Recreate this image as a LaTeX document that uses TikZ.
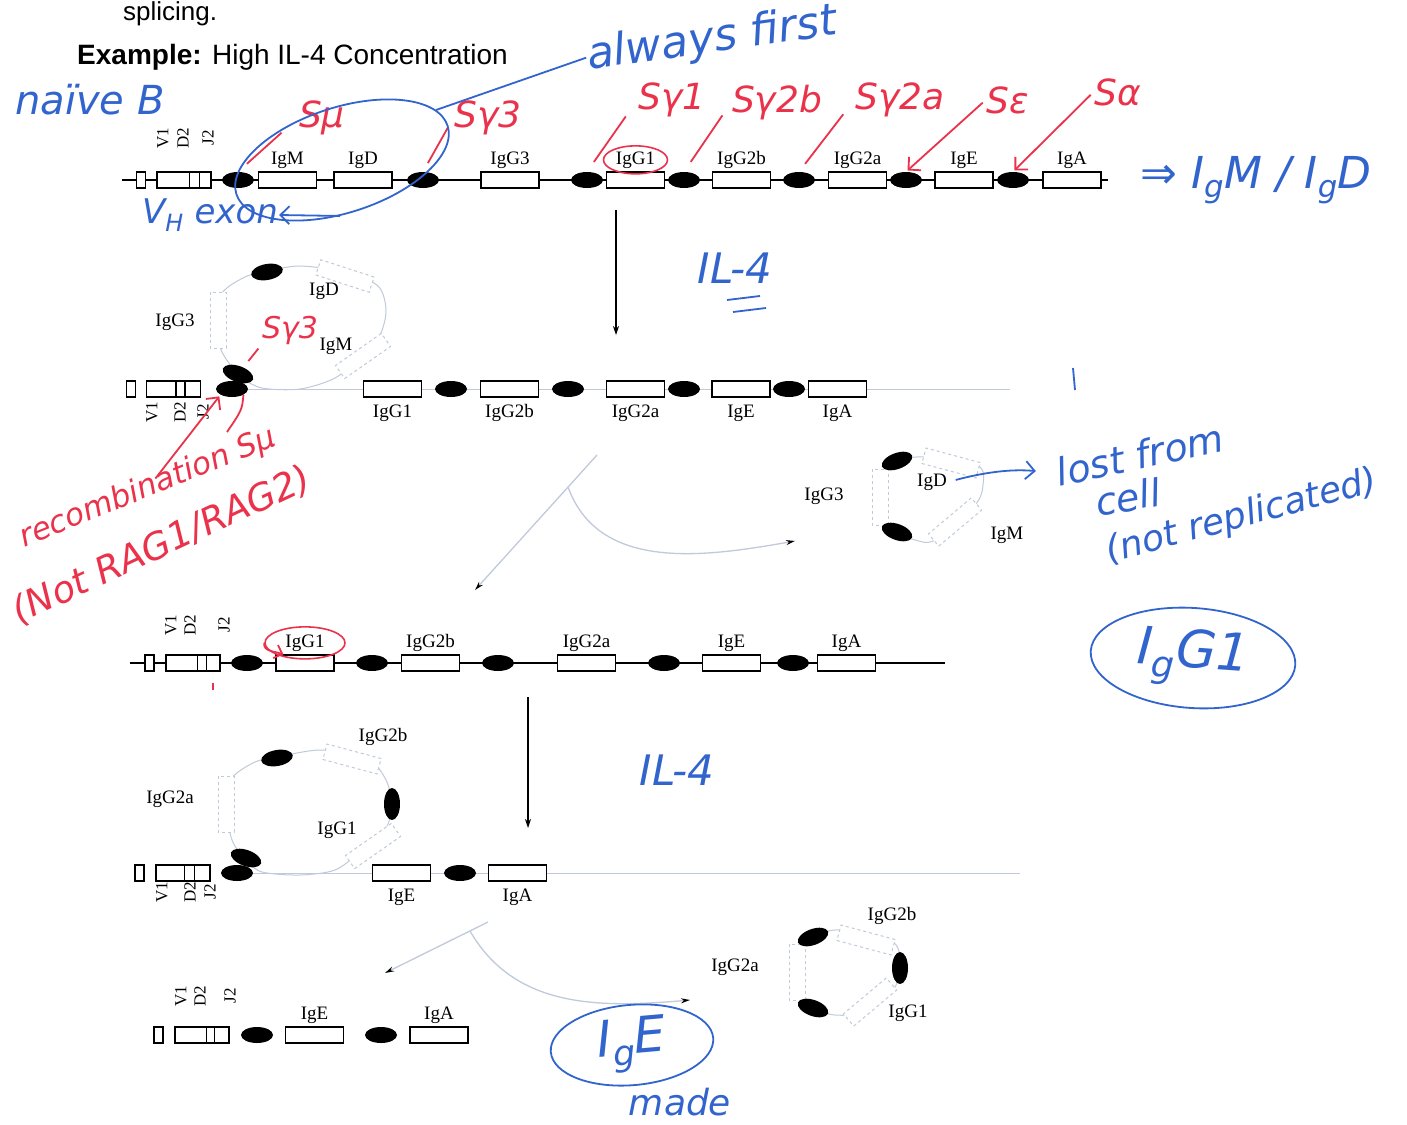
\documentclass[tikz,border=0pt]{standalone}
\usepackage{fontspec}
\setmainfont{Liberation Serif}
\newfontfamily\printfont{Liberation Sans}
\newfontfamily\handfont{DejaVu Sans}
\usetikzlibrary{positioning, arrows.meta, shapes.geometric}

\definecolor{inkblue}{RGB}{50,100,205}
\definecolor{inkred}{RGB}{235,50,75}
\definecolor{faint}{RGB}{192,202,218}

\tikzset{
    gene/.style={draw, line width=1.2pt, fill=white, minimum width=58pt,
        minimum height=16pt, inner sep=0pt},
    seg/.style={gene, minimum width=9pt},
    vdj/.style={gene, minimum width=54pt},
    switch/.style={ellipse, fill=black, minimum width=32pt, minimum height=16pt, inner sep=0pt},
    ghost/.style={draw=faint, dashed, line width=1pt, fill=white, minimum width=56pt,
        minimum height=16pt, inner sep=0pt},
    glabel/.style={font=\fontsize{19}{19}\selectfont, inner sep=1pt},
    vlabel/.style={font=\fontsize{17}{17}\selectfont, rotate=90, inner sep=0pt},
    dna/.style={line width=1.3pt},
    faintdna/.style={draw=faint, line width=1pt},
    loopline/.style={draw=faint, line width=1pt},
    bluehand/.style={text=inkblue, font=\handfont\itshape\fontsize{36}{38}\selectfont, inner sep=1pt},
    redhand/.style={text=inkred, font=\handfont\itshape\fontsize{36}{38}\selectfont, inner sep=1pt},
    blueink/.style={draw=inkblue, line width=1.8pt},
    redink/.style={draw=inkred, line width=1.8pt},
    stepline/.style={line width=1.3pt, -{Stealth[length=9pt,width=6pt]}},
    fork/.style={draw=faint, line width=1.3pt, -{Stealth[black,length=9pt,width=5pt]}}
}

\begin{document}
\begin{tikzpicture}[x=1pt, y=-1pt]
\useasboundingbox[fill=white] (0,0) rectangle (1407,1124);

% printed heading
\node[font=\printfont\fontsize{26}{26}\selectfont, anchor=base west, inner sep=0pt] (splice) at (123,21) {splicing.};
\node[font=\printfont\fontsize{28}{28}\selectfont, anchor=west, inner sep=0pt] (title) at (77,57)
    {\textbf{Example:} High IL-4 Concentration};

% ---- naive locus ----
\coordinate (row1w) at (122,180);
\coordinate (row1e) at (1108,180);
\draw[dna] (row1w) -- (row1e);
\node[seg] (v0a) at (141,180) {};
\node[vdj] (vdja) at (184,180) {};
\draw[line width=1.2pt] ([xshift=33pt]vdja.north west) -- ([xshift=33pt]vdja.south west);
\draw[line width=1.2pt] ([xshift=43pt]vdja.north west) -- ([xshift=43pt]vdja.south west);
\node[switch] (smua) at (238,180) {};
\node[gene] (igma) at (287.5,180) {};
\node[gene] (igda) at (363,180) {};
\node[switch] (sg3a) at (423,180) {};
\node[gene] (igg3a) at (510,180) {};
\node[switch] (sg1a) at (587,180) {};
\node[gene] (igg1a) at (635.5,180) {};
\node[switch] (sg2ba) at (684,180) {};
\node[gene] (igg2ba) at (741.5,180) {};
\node[switch] (sg2aa) at (799,180) {};
\node[gene] (igg2aa) at (857.5,180) {};
\node[switch] (sea) at (906,180) {};
\node[gene] (igea) at (964,180) {};
\node[switch] (saa) at (1013,180) {};
\node[gene] (igaa) at (1072,180) {};

\node[glabel, above=2pt of igma] (igmalab) {IgM};
\node[glabel, above=2pt of igda] (igdalab) {IgD};
\node[glabel, above=2pt of igg3a] (igg3alab) {IgG3};
\node[glabel, above=2pt of igg1a] (igg1alab) {IgG1};
\node[glabel, above=2pt of igg2ba] (igg2balab) {IgG2b};
\node[glabel, above=2pt of igg2aa] (igg2aalab) {IgG2a};
\node[glabel, above=2pt of igea] (igealab) {IgE};
\node[glabel, above=2pt of igaa] (igaalab) {IgA};
\node[vlabel] (v1a) at (163,138) {V1};
\node[vlabel] (d2a) at (183,138) {D2};
\node[vlabel] (j2a) at (208,138) {J2};

% ---- first switch (IgM/IgD/IgG3 looped out) ----
\coordinate (row2e) at (1010,389);
\draw[loopline] plot[smooth cycle] coordinates {(240,376) (222,352) (214,322) (222,293) (245,277) (268,271)
    (300,266) (345,272) (378,286) (386,310) (380,335) (362,356) (335,378) (300,389) (262,388)};
\node[ghost, rotate=90] (loopg3) at (218,320) {};
\node[ghost, rotate=-18] (loopd) at (345,276) {};
\node[ghost, rotate=35] (loopm) at (363,356) {};
\node[switch, rotate=10] (looptop) at (267,272) {};
\node[switch, rotate=-20] (loopsw) at (238,374) {};
\node[glabel] (loopg3lab) at (175,322) {IgG3};
\node[glabel] (loopdlab) at (324,291) {IgD};
\node[glabel] (loopmlab) at (336,346) {IgM};

\node[seg] (v0b) at (131,389) {};
\node[vdj] (vdjb) at (173.5,389) {};
\draw[line width=1.2pt] ([xshift=30pt]vdjb.north west) -- ([xshift=30pt]vdjb.south west);
\draw[line width=1.2pt] ([xshift=39pt]vdjb.north west) -- ([xshift=39pt]vdjb.south west);
\node[switch] (smub) at (232,389) {};
\draw[faintdna] (smub.east) -- (row2e);
\node[gene] (igg1b) at (392.5,389) {};
\node[switch] (sg2bb) at (451,389) {};
\node[gene] (igg2bb) at (509.5,389) {};
\node[switch] (sg2ab) at (568,389) {};
\node[gene] (igg2ab) at (635.5,389) {};
\node[switch] (seb) at (684,389) {};
\node[gene] (igeb) at (741,389) {};
\node[switch] (sab) at (789,389) {};
\node[gene] (igab) at (837.5,389) {};
\node[glabel, below=6pt of igg1b] (igg1blab) {IgG1};
\node[glabel, below=6pt of igg2bb] (igg2bblab) {IgG2b};
\node[glabel, below=6pt of igg2ab] (igg2ablab) {IgG2a};
\node[glabel, below=6pt of igeb] (igeblab) {IgE};
\node[glabel, below=6pt of igab] (igablab) {IgA};
\node[vlabel] (v1b) at (152,412) {V1};
\node[vlabel] (d2b) at (180,412) {D2};
\node[vlabel] (j2b) at (203,412) {J2};

\coordinate (step1a) at (616,210);
\coordinate (step1b) at (616,335);
\draw[stepline] (step1a) -- (step1b);

% excision 1
\coordinate (fork1top) at (597,455);
\coordinate (fork1mid) at (568,487);
\coordinate (fork1end) at (475,590);
\coordinate (fork1out) at (795,541);
\draw[fork] (fork1top) -- (fork1end);
\draw[fork] (fork1mid) to[out=-70, in=190] (fork1out);

\draw[loopline] plot[smooth cycle] coordinates {(897,461) (925,457) (978,466) (983,485) (975,505)
    (935,540) (915,540) (897,532) (882,520) (878,497) (882,474)};
\node[ghost, rotate=90] (exg3) at (880,497) {};
\node[ghost, rotate=-15] (exd) at (951,463) {};
\node[ghost, rotate=40] (exm) at (955,522) {};
\node[switch, rotate=20] (extop) at (897,461) {};
\node[switch, rotate=-20] (exbot) at (897,532) {};
\node[glabel] (exg3lab) at (824,496) {IgG3};
\node[glabel] (exdlab) at (932,482) {IgD};
\node[glabel] (exmlab) at (1007,535) {IgM};

% ---- IgG1 locus ----
\coordinate (row3w) at (130,663);
\coordinate (row3e) at (945,663);
\draw[dna] (row3w) -- (row3e);
\node[seg] (v0c) at (149.5,663) {};
\node[vdj] (vdjc) at (193,663) {};
\draw[line width=1.2pt] ([xshift=32pt]vdjc.north west) -- ([xshift=32pt]vdjc.south west);
\draw[line width=1.2pt] ([xshift=41pt]vdjc.north west) -- ([xshift=41pt]vdjc.south west);
\node[switch] (smuc) at (247,663) {};
\node[gene] (igg1c) at (305,663) {};
\node[switch] (sg2bc) at (372,663) {};
\node[gene] (igg2bc) at (430.5,663) {};
\node[switch] (sg2ac) at (498,663) {};
\node[gene] (igg2ac) at (586.5,663) {};
\node[switch] (sec) at (664,663) {};
\node[gene] (igec) at (731.5,663) {};
\node[switch] (sac) at (793,663) {};
\node[gene] (igac) at (846.5,663) {};
\node[glabel, above=2pt of igg1c] (igg1clab) {IgG1};
\node[glabel, above=2pt of igg2bc] (igg2bclab) {IgG2b};
\node[glabel, above=2pt of igg2ac] (igg2aclab) {IgG2a};
\node[glabel, above=2pt of igec] (igeclab) {IgE};
\node[glabel, above=2pt of igac] (igaclab) {IgA};
\node[vlabel] (v1c) at (171,625) {V1};
\node[vlabel] (d2c) at (190,625) {D2};
\node[vlabel] (j2c) at (224,625) {J2};

\coordinate (step2a) at (528,697);
\coordinate (step2b) at (528,828);
\draw[stepline] (step2a) -- (step2b);

% ---- second switch (IgG1/IgG2b/IgG2a looped out) ----
\coordinate (row4e) at (1020,873);
\draw[loopline] plot[smooth cycle] coordinates {(246,860) (232,840) (226,805) (232,778) (255,762) (277,757)
    (320,750) (365,756) (385,778) (392,804) (385,830) (360,852) (335,870) (300,875) (262,872)};
\node[ghost, rotate=90] (loopg2a) at (226,804) {};
\node[ghost, rotate=-15] (loopg2b) at (352,759) {};
\node[ghost, rotate=35] (loopg1) at (373,846) {};
\node[switch, rotate=10] (loop2top) at (277,758) {};
\node[switch, rotate=90] (loop2right) at (392,804) {};
\node[switch, rotate=-20] (loop2sw) at (246,858) {};
\node[glabel] (loopg2blab) at (383,737) {IgG2b};
\node[glabel] (loopg2alab) at (170,799) {IgG2a};
\node[glabel] (loopg1lab) at (337,830) {IgG1};

\node[seg] (v0d) at (139.5,873) {};
\node[vdj] (vdjd) at (183,873) {};
\draw[line width=1.2pt] ([xshift=29pt]vdjd.north west) -- ([xshift=29pt]vdjd.south west);
\draw[line width=1.2pt] ([xshift=39pt]vdjd.north west) -- ([xshift=39pt]vdjd.south west);
\node[switch] (smud) at (237,873) {};
\draw[faintdna] (smud.east) -- (row4e);
\node[gene] (iged) at (401.5,873) {};
\node[switch] (sad) at (460,873) {};
\node[gene] (igad) at (517.5,873) {};
\node[glabel, below=6pt of iged] (igedlab) {IgE};
\node[glabel, below=6pt of igad] (igadlab) {IgA};
\node[vlabel] (v1d) at (162,892) {V1};
\node[vlabel] (d2d) at (190,892) {D2};
\node[vlabel] (j2d) at (210,892) {J2};

% excision 2
\coordinate (fork2top) at (488,922);
\coordinate (fork2mid) at (470,931);
\coordinate (fork2end) at (385,973);
\coordinate (fork2out) at (690,1000);
\draw[fork] (fork2top) -- (fork2end);
\draw[fork] (fork2mid) to[out=-60, in=185] (fork2out);

\draw[loopline] plot[smooth cycle] coordinates {(813,937) (840,930) (893,942) (900,968) (893,990)
    (865,1012) (835,1015) (813,1008) (798,990) (795,955)};
\node[ghost, rotate=-15] (exg2b) at (866,940) {};
\node[ghost, rotate=90] (exg2a) at (797,972) {};
\node[ghost, rotate=40] (exg1) at (870,1002) {};
\node[switch, rotate=20] (ex2top) at (813,937) {};
\node[switch, rotate=90] (ex2right) at (900,968) {};
\node[switch, rotate=-20] (ex2bot) at (813,1008) {};
\node[glabel] (exg2blab) at (892,916) {IgG2b};
\node[glabel] (exg2alab) at (735,967) {IgG2a};
\node[glabel] (exg1lab) at (908,1013) {IgG1};

% ---- IgE locus ----
\node[seg] (v0e) at (158.5,1035) {};
\node[vdj] (vdje) at (202,1035) {};
\draw[line width=1.2pt] ([xshift=32pt]vdje.north west) -- ([xshift=32pt]vdje.south west);
\draw[line width=1.2pt] ([xshift=40pt]vdje.north west) -- ([xshift=40pt]vdje.south west);
\node[switch] (sme) at (257,1035) {};
\node[gene] (igee) at (314.5,1035) {};
\node[switch] (sae) at (381,1035) {};
\node[gene] (igae) at (439,1035) {};
\node[glabel, above=2pt of igee] (igeelab) {IgE};
\node[glabel, above=2pt of igae] (igaelab) {IgA};
\node[vlabel] (v1e) at (181,996) {V1};
\node[vlabel] (d2e) at (200,996) {D2};
\node[vlabel] (j2e) at (230,996) {J2};

% ---- red notes ----
\node[redhand] (smutag) at (322,118) {Sμ};
\node[redhand] (sg3tag) at (488,118) {Sγ3};
\node[redhand] (sg1tag) at (672,100) {Sγ1};
\node[redhand] (sg2btag) at (777,103) {Sγ2b};
\node[redhand] (sg2atag) at (900,100) {Sγ2a};
\node[redhand] (setag) at (1008,100) {Sε};
\node[redhand] (satag) at (1118,92) {Sα};
\draw[redink, shorten <=22pt, shorten >=12pt] (smutag.west) -- (smua.north);
\draw[redink, shorten <=10pt, shorten >=10pt] (sg3tag.west) -- (sg3a.north);
\draw[redink, shorten <=20pt, shorten >=12pt] (sg1tag.west) -- (sg1a.north);
\draw[redink, shorten <=15pt, shorten >=12pt] (sg2btag.west) -- (sg2ba.north);
\draw[redink, shorten <=18pt, shorten >=10pt] (sg2atag.west) -- (sg2aa.north);
\draw[redink, -{Straight Barb[length=9pt]}, shorten <=4pt, shorten >=2pt] (setag.west) -- (sea.north);
\draw[redink, -{Straight Barb[length=9pt]}, shorten <=4pt, shorten >=2pt] (satag.west) -- (saa.north);
\node[draw=inkred, line width=1.6pt, ellipse, minimum width=64pt, minimum height=28pt] (g1ringa) at (igg1alab) {};

\node[redhand, font=\handfont\itshape\fontsize{30}{32}\selectfont] (loopsg3tag) at (290,330) {Sγ3};
\draw[redink, shorten <=4pt, shorten >=8pt] (loopsg3tag.south west) -- (loopsw);

\node[redhand, rotate=22, font=\handfont\itshape\fontsize{31}{33}\selectfont] (recomb) at (148,488) {recombination Sμ};
\node[redhand, rotate=25, font=\handfont\itshape\fontsize{37}{39}\selectfont] (notrag) at (162,545) {(Not RAG1/RAG2)};
\draw[redink, -{Straight Barb[length=9pt]}, shorten <=12pt, shorten >=2pt] (recomb.center) -- (smub.south west);
\coordinate (smupoint) at (227,432);
\draw[redink] (smub.south east) .. controls (242,410) .. (smupoint);

\node[draw=inkred, line width=1.6pt, ellipse, minimum width=80pt, minimum height=32pt] (g1ringc) at (igg1clab) {};
\draw[redink, -{Straight Barb[length=7pt]}] (g1ringc.west) to[out=-100, in=160] ([xshift=8pt]igg1c.north west);
\coordinate (ticka) at (213,683);
\coordinate (tickb) at (213,690);
\draw[redink, line width=1.3pt] (ticka) -- (tickb);

% ---- blue notes ----
\node[bluehand, font=\handfont\itshape\fontsize{40}{42}\selectfont] (naive) at (90,100) {naïve B};
\node[bluehand, rotate=8, font=\handfont\itshape\fontsize{44}{46}\selectfont] (always) at (712,40) {always first};
\node[draw=inkblue, line width=1.8pt, ellipse, rotate=18, minimum width=222pt, minimum height=105pt] (ring) at (342,160) {};
\draw[blueink] (ring.10) -- (always.west);
\node[bluehand, font=\handfont\itshape\fontsize{34}{36}\selectfont] (vhexon) at (210,215) {V\textsubscript{H} exon};
\draw[blueink, -{Straight Barb[length=9pt]}] (ring.250) -- (vhexon.east);
\node[bluehand, font=\handfont\itshape\fontsize{44}{46}\selectfont] (igmigd) at (1256,180)
    {⇒ I\textsubscript{g}M / I\textsubscript{g}D};

\node[bluehand, font=\handfont\itshape\fontsize{42}{44}\selectfont] (ilfoura) at (735,268) {IL-4};
\coordinate (ula) at (727,300);
\coordinate (ulb) at (760,296);
\coordinate (ulc) at (733,312);
\coordinate (uld) at (766,308);
\draw[blueink] (ula) -- (ulb);
\draw[blueink] (ulc) -- (uld);
\coordinate (strokea) at (1073,368);
\coordinate (strokeb) at (1075,390);
\draw[blueink] (strokea) -- (strokeb);

\node[bluehand, rotate=12, font=\handfont\itshape\fontsize{38}{40}\selectfont] (lost) at (1140,455) {lost from};
\node[bluehand, rotate=10, font=\handfont\itshape\fontsize{38}{40}\selectfont] (cell) at (1128,497) {cell};
\node[bluehand, rotate=15, font=\handfont\itshape\fontsize{36}{38}\selectfont] (notrep) at (1242,517) {(not replicated)};
\draw[blueink, -{Straight Barb[length=9pt]}, shorten <=8pt, shorten >=20pt] (exdlab.east) to[bend left=10] (lost.west);

\node[bluehand, font=\handfont\itshape\fontsize{52}{54}\selectfont, draw=inkblue, line width=1.8pt, ellipse,
    rotate=-4, minimum width=205pt, minimum height=100pt] (igg1made) at (1193,658) {I\textsubscript{g}G1};
\node[bluehand, font=\handfont\itshape\fontsize{42}{44}\selectfont] (ilfourb) at (677,770) {IL-4};
\node[bluehand, font=\handfont\itshape\fontsize{50}{52}\selectfont, draw=inkblue, line width=1.8pt, ellipse,
    rotate=5, minimum width=163pt, minimum height=76pt] (igemade) at (632,1045) {I\textsubscript{g}E};
\node[bluehand, font=\handfont\itshape\fontsize{36}{38}\selectfont] (made) at (680,1102) {made};

\end{tikzpicture}
\end{document}
